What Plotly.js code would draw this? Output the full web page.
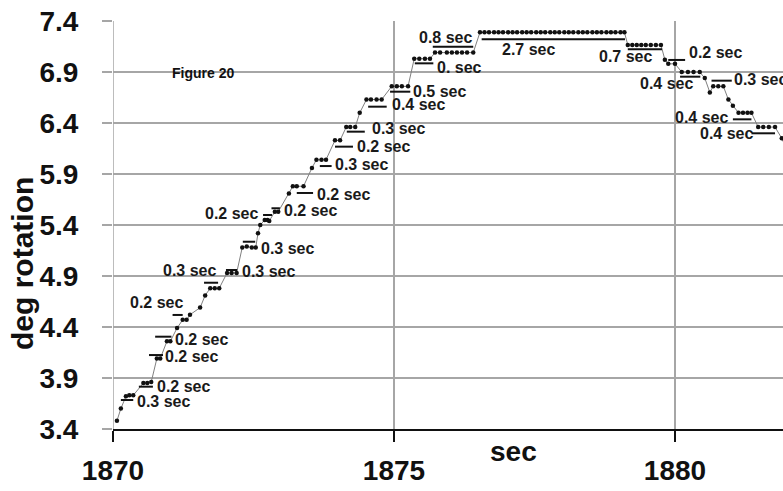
<!DOCTYPE html>
<html>
<head>
<meta charset="utf-8">
<script src="https://cdn.plot.ly/plotly-3.0.1.min.js"></script>
<style>html,body{margin:0;padding:0;background:#fff;overflow:hidden;}</style>
</head>
<body>
<div id="chart" style="width:783px;height:491px;"></div>
<script>
// sample times (sec) and rotation (deg)
const timeSec = [
 1870.07,1870.14,1870.23,1870.29,1870.36,1870.54,1870.61,1870.68,1870.78,1870.84,
 1870.96,1871.02,1871.14,1871.24,1871.31,1871.37,1871.55,1871.64,1871.73,1871.81,
 1871.89,1872.03,1872.11,1872.20,1872.30,1872.38,1872.47,1872.54,1872.58,1872.62,
 1872.70,1872.75,1872.78,1872.88,1872.94,1873.13,1873.20,1873.27,1873.39,1873.54,
 1873.62,1873.71,1873.79,1873.95,1874.04,1874.15,1874.22,1874.31,1874.39,1874.51,
 1874.59,1874.69,1874.78,1874.96,1875.05,1875.14,1875.25,1875.36,1875.45,1875.55,
 1875.64,1875.73,1875.82,1875.94,1876.03,1876.12,1876.21,1876.30,1876.41,
 1876.53,1876.61,1876.69,1876.78,1876.86,1876.94,1877.03,1877.11,1877.19,1877.28,
 1877.36,1877.44,1877.53,1877.61,1877.69,1877.78,1877.86,1877.94,1878.03,1878.11,
 1878.19,1878.28,1878.36,1878.44,1878.53,1878.61,1878.69,1878.78,1878.86,1878.94,
 1879.03,1879.10,
 1879.16,1879.24,1879.32,1879.40,1879.48,1879.57,1879.66,1879.75,
 1879.82,1879.88,1880.00,
 1880.12,1880.23,1880.33,1880.44,1880.53,1880.62,1880.68,1880.77,1880.86,
 1880.95,1881.03,1881.13,1881.21,1881.29,1881.36,1881.48,1881.57,1881.67,1881.78,
 1881.90,1881.99
];
const degRotation = [
 3.48,3.60,3.72,3.73,3.73,3.85,3.85,3.86,4.09,4.09,
 4.26,4.26,4.39,4.47,4.47,4.52,4.59,4.71,4.78,4.78,
 4.78,4.93,4.93,4.93,5.18,5.19,5.18,5.18,5.32,5.40,
 5.45,5.45,5.44,5.53,5.53,5.71,5.78,5.78,5.78,5.96,
 6.04,6.04,6.04,6.23,6.23,6.36,6.36,6.36,6.50,6.63,
 6.63,6.63,6.63,6.76,6.76,6.76,6.76,7.03,7.03,7.03,
 7.03,7.09,7.09,7.09,7.09,7.09,7.09,7.09,7.09,
 7.29,7.29,7.29,7.29,7.29,7.29,7.29,7.29,7.29,7.29,
 7.29,7.29,7.29,7.29,7.29,7.29,7.29,7.29,7.29,7.29,
 7.29,7.29,7.29,7.29,7.29,7.29,7.29,7.29,7.29,7.29,
 7.29,7.29,
 7.165,7.165,7.165,7.165,7.165,7.165,7.165,7.165,
 7.02,6.98,6.98,
 6.90,6.90,6.90,6.90,6.84,6.70,6.76,6.76,6.76,
 6.63,6.57,6.50,6.50,6.50,6.50,6.36,6.36,6.36,6.36,
 6.25,6.14
];

// duration marker bars
const segStart = [1870.14,1870.46,1870.64,1870.75,1871.06,1871.62,1872.01,1872.31,1872.67,1872.82,1873.27,1873.68,1873.95,1874.16,1874.54,1874.93,1875.37,1875.69,1876.56,1879.16,1879.88,1880.09,1880.65,1881.03,1881.36];
const segEnd   = [1870.36,1870.71,1870.89,1871.04,1871.24,1871.87,1872.21,1872.53,1872.83,1872.97,1873.56,1873.89,1874.27,1874.48,1874.87,1875.29,1875.70,1876.41,1879.11,1879.77,1880.18,1880.45,1881.01,1881.36,1881.78];
const segLevel = [3.684,3.815,4.125,4.305,4.518,4.834,4.959,5.236,5.498,5.564,5.714,5.978,6.168,6.315,6.56,6.707,6.985,7.148,7.221,7.123,7.018,6.854,6.815,6.436,6.299];

// duration labels
const labelText = ["0.3 sec","0.2 sec","0.2 sec","0.2 sec","0.2 sec","0.3 sec","0.3 sec","0.3 sec","0.2 sec","0.2 sec","0.2 sec","0.3 sec","0.2 sec","0.3 sec","0.4 sec","0.5 sec","0. sec","0.8 sec","2.7 sec","0.7 sec","0.2 sec","0.4 sec","0.3 sec","0.4 sec","0.4 sec"];
const labelX = [1870.39,1870.75,1870.89,1871.07,1871.28,1871.87,1872.26,1872.60,1872.62,1873.01,1873.59,1873.91,1874.31,1874.57,1874.93,1875.30,1875.73,1875.41,1876.89,1878.61,1880.21,1879.34,1881.01,1879.96,1880.41];
const labelY = [3.665,3.82,4.11,4.28,4.645,4.95,4.94,5.17,5.51,5.54,5.70,5.99,6.17,6.35,6.58,6.71,6.94,7.24,7.12,7.05,7.09,6.79,6.83,6.45,6.30];
const labelAnchor = ["left","left","left","left","right","right","left","left","right","left","left","left","left","left","left","left","left","left","left","left","left","left","left","left","left"];

const xTicks = [1870, 1875, 1880];
const yTicks = [3.4, 3.9, 4.4, 4.9, 5.4, 5.9, 6.4, 6.9, 7.4];

const segX = [], segY = [];
for (let i = 0; i < segStart.length; i++) {
  segX.push(segStart[i], segEnd[i], null);
  segY.push(segLevel[i], segLevel[i], null);
}

const FONT = "Liberation Sans, Arial, sans-serif";

const traces = [
  {
    x: timeSec, y: degRotation, type: "scatter", mode: "lines+markers",
    line: {color: "#808080", width: 1},
    marker: {color: "#111", size: 4.5},
    hoverinfo: "skip"
  },
  {
    x: segX, y: segY, type: "scatter", mode: "lines",
    line: {color: "#111", width: 2}, hoverinfo: "skip", connectgaps: false
  }
];

const annotations = labelText.map((txt, i) => ({
  x: labelX[i], y: labelY[i], xref: "x", yref: "y",
  text: txt, showarrow: false, xanchor: labelAnchor[i], yanchor: "middle",
  font: {family: FONT, size: 16, color: "#1a1a1a", weight: "bold"}
}));

annotations.push({
  x: 1871.01, y: 6.89, xref: "x", yref: "y", text: "Figure 20", showarrow: false,
  xanchor: "left", yanchor: "middle",
  font: {family: FONT, size: 14, color: "#111", weight: "bold"}
});
annotations.push({
  x: 1877.12, y: -0.056, xref: "x", yref: "paper", text: "sec", showarrow: false,
  xanchor: "center", yanchor: "middle",
  font: {family: FONT, size: 28, color: "#111", weight: "bold"}
});

// y-axis title placed in paper coords from its pixel centre
const L = 113, T = 21, W = 670, H = 408;
annotations.push({
  x: (22 - L) / W, y: 1 - (264 - T) / H, xref: "paper", yref: "paper",
  text: "deg rotation", showarrow: false,
  textangle: -90, xanchor: "center", yanchor: "middle",
  font: {family: FONT, size: 30, color: "#111", weight: "bold"}
});

const layout = {
  width: 783, height: 491,
  margin: {l: L, r: 0, t: T, b: 491 - T - H, pad: 0},
  paper_bgcolor: "#fff", plot_bgcolor: "#fff",
  showlegend: false,
  xaxis: {
    range: [1870, 1870 + W / 56.2], tickvals: xTicks, ticktext: xTicks.map(String),
    showgrid: true, gridcolor: "#a6a6a6", gridwidth: 1.5,
    zeroline: false, showline: true, linecolor: "#111", linewidth: 1.5,
    ticks: "outside", ticklen: 11, tickcolor: "#111", tickwidth: 1.5,
    ticklabelstandoff: 5,
    tickfont: {family: FONT, size: 28, color: "#111", weight: "bold"}
  },
  yaxis: {
    range: [3.4, 7.4], tickvals: yTicks, ticktext: yTicks.map(v => v.toFixed(1)),
    showgrid: true, gridcolor: "#a6a6a6", gridwidth: 1.5,
    zeroline: false, showline: false,
    ticks: "outside", ticklen: 10, tickcolor: "#a6a6a6", tickwidth: 1.5,
    ticklabelstandoff: 18,
    tickfont: {family: FONT, size: 28, color: "#111", weight: "bold"}
  },
  shapes: [{type: "line", xref: "x", yref: "paper", x0: 1870, x1: 1870, y0: 0, y1: 1,
            line: {color: "#a6a6a6", width: 1.5}, layer: "below"}],
  annotations: annotations
};

Plotly.newPlot("chart", traces, layout, {staticPlot: true, displayModeBar: false});
</script>
</body>
</html>
